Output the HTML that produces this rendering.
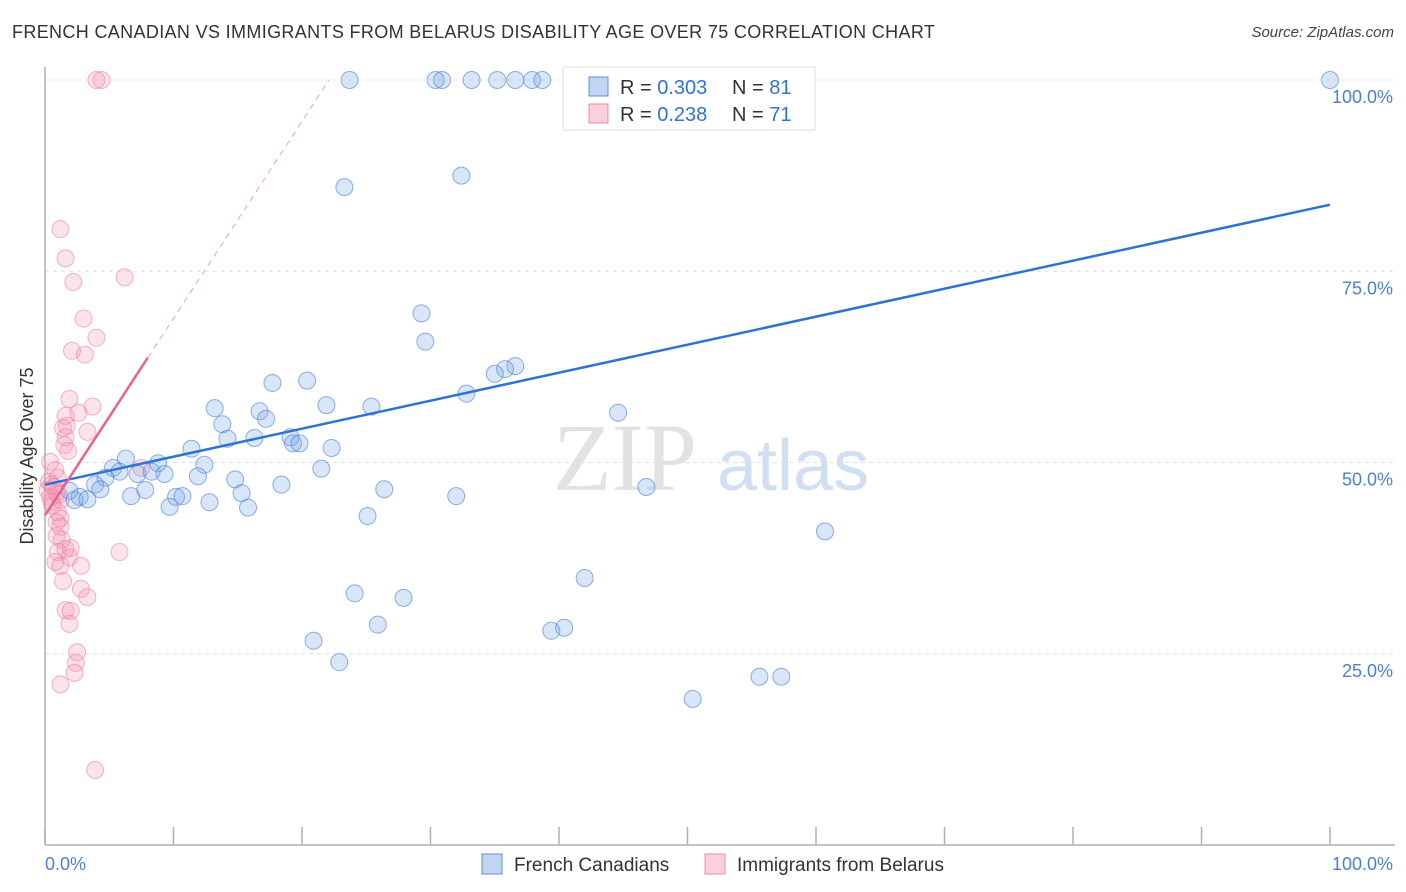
<!DOCTYPE html>
<html><head><meta charset="utf-8">
<style>
body{margin:0;background:#fff;font-family:"Liberation Sans",sans-serif;}
#wrap{position:relative;width:1406px;height:892px;overflow:hidden;}
.title{position:absolute;left:12px;top:22px;font-size:18px;color:#333;letter-spacing:0.35px;}
.source{position:absolute;right:12px;top:24px;font-size:15px;color:#444;font-style:italic;}
</style></head><body>
<div id="wrap">
<div class="title">FRENCH CANADIAN VS IMMIGRANTS FROM BELARUS DISABILITY AGE OVER 75 CORRELATION CHART</div>
<div class="source">Source: ZipAtlas.com</div>
<svg id="svg" width="1406" height="892" style="position:absolute;left:0;top:0"></svg>
</div>
<script>
const blueX=[23.7,30.4,30.9,33.2,35.2,36.6,37.9,38.7,55.0,58.1,100,23.3,32.4,29.3,29.6,36.6,35.8,35.0,32.8,44.6,17.7,20.4,13.2,21.9,25.4,16.7,17.2,13.8,14.2,16.3,19.1,19.3,19.8,22.3,11.4,6.3,8.8,12.4,5.3,5.8,7.2,8.3,9.3,4.7,11.9,21.5,14.8,3.9,1.9,4.3,18.4,7.8,26.4,46.8,2.7,2.3,3.3,6.7,10.2,10.7,15.3,32.0,12.8,9.7,15.8,25.1,60.7,42.0,24.1,27.9,25.9,39.4,40.4,20.9,22.9,55.6,57.3,50.4];
const blueY=[100,100,100,100,100,100,100,100,100,100,100,86.0,87.5,69.5,65.8,62.6,62.2,61.6,59.0,56.5,60.4,60.7,57.1,57.5,57.3,56.7,55.7,55.0,53.1,53.2,53.3,52.5,52.5,51.9,51.8,50.5,49.9,49.7,49.3,48.8,48.5,48.8,48.5,48.0,48.2,49.2,47.8,47.1,46.3,46.5,47.1,46.4,46.5,46.8,45.5,45.1,45.2,45.6,45.5,45.6,46.0,45.6,44.8,44.2,44.1,43.0,41.0,34.9,32.9,32.3,28.8,28.0,28.4,26.7,23.9,22.0,22.0,19.1];
const pinkX=[4.0,4.4,1.2,1.6,2.2,6.2,3.0,4.0,2.1,3.1,1.9,3.7,2.6,1.6,1.7,1.4,3.3,1.6,1.5,1.8,7.5,0.4,0.8,1.0,0.5,0.2,0.9,0.4,1.2,0.6,1.0,1.2,0.9,1.2,0.9,1.3,5.8,1.6,2.0,1.0,1.9,0.8,1.2,2.8,1.4,2.8,3.3,1.6,2.0,1.9,2.5,2.4,2.3,1.2,3.9,0.3,0.7,1.1,0.5];
const pinkY=[100,100,80.5,76.7,73.6,74.2,68.8,66.3,64.6,64.1,58.3,57.3,56.5,56.1,54.8,54.5,54.0,53.3,52.3,51.5,49.3,50.1,49.0,48.0,47.1,46.4,46.0,45.5,45.1,44.4,43.5,42.7,42.2,41.6,40.4,39.9,38.3,38.7,38.8,38.3,37.6,37.0,36.5,36.5,34.5,33.5,32.4,30.7,30.6,28.9,25.2,23.8,22.5,21.0,9.8,47.5,46.8,45.8,44.9];
const blueTrend=[47.1,83.7];
const pinkTrend=[43.1,2.575];
const yTicks=[100,75,50,25];
const yTickLabels=["100.0%","75.0%","50.0%","25.0%"];
const xTicks=[0,10,20,30,40,50,60,70,80,90,100];

const X0=45,X1=1330,Y0=845,Y100=80;
const sx=v=>X0+(X1-X0)*v/100;
const sy=v=>Y0-(Y0-Y100)*v/100;
const svg=document.getElementById('svg');
const NS='http://www.w3.org/2000/svg';
function mk(t,a){const e=document.createElementNS(NS,t);for(const k in a)e.setAttribute(k,a[k]);svg.appendChild(e);return e;}

let w=mk('text',{x:553,y:490,'font-size':96,'font-family':'Liberation Serif,serif',fill:'#e2e2e2'});w.textContent='ZIP';


w=mk('text',{x:717,y:490,'font-size':72,'font-family':'Liberation Sans,sans-serif',fill:'#d0dff2'});w.textContent='atlas';



yTicks.forEach((t,i)=>{
 const g=mk('line',{x1:X0,x2:1395,y1:sy(t),y2:sy(t),stroke:'#e0e0e0','stroke-dasharray':'4,4'});
 
 
 const l=mk('text',{x:1393,y:sy(t)+23,'text-anchor':'end','font-size':18,fill:'#4a7fd4'});
 l.textContent=yTickLabels[i];
 
 
});
let a=mk('line',{x1:X0,x2:X0,y1:67,y2:Y0,stroke:'#b0b0b0','stroke-width':1.5});


a=mk('line',{x1:X0,x2:1395,y1:Y0,y2:Y0,stroke:'#b0b0b0','stroke-width':1.5});


xTicks.forEach(t=>{const e=mk('line',{x1:sx(t),x2:sx(t),y1:827,y2:Y0,stroke:'#b0b0b0','stroke-width':1.5});
 
 });
let t=mk('text',{x:45,y:870,'font-size':18,fill:'#4a7fd4'});t.textContent='0.0%';


t=mk('text',{x:1393,y:870,'text-anchor':'end','font-size':18,fill:'#4a7fd4'});t.textContent='100.0%';


t=mk('text',{x:0,y:0,'font-size':18,fill:'#333','text-anchor':'middle',transform:'translate(33,456) rotate(-90)'});t.textContent='Disability Age Over 75';



pinkX.forEach((x,i)=>{const c=mk('circle',{cx:sx(x),cy:sy(pinkY[i]),r:8.5,fill:'rgba(244,150,178,0.28)',stroke:'rgba(236,130,165,0.6)','stroke-width':1});
 
 });
blueX.forEach((x,i)=>{const c=mk('circle',{cx:sx(x),cy:sy(blueY[i]),r:8.5,fill:'rgba(120,165,230,0.28)',stroke:'rgba(80,135,215,0.65)','stroke-width':1});
 
 });

let l=mk('line',{x1:sx(0),y1:sy(blueTrend[0]),x2:sx(100),y2:sy(blueTrend[1]),stroke:'#2f72d6','stroke-width':2.5});


l=mk('line',{x1:sx(0),y1:sy(pinkTrend[0]),x2:sx(8),y2:sy(pinkTrend[0]+8*pinkTrend[1]),stroke:'#e8648c','stroke-width':2.5});


const xe=(100-pinkTrend[0])/pinkTrend[1];
l=mk('line',{x1:sx(8),y1:sy(pinkTrend[0]+8*pinkTrend[1]),x2:sx(xe),y2:sy(100),stroke:'#f0a0b8','stroke-width':1,'stroke-dasharray':'6,5'});



let r=mk('rect',{x:563,y:67,width:252,height:63,fill:'#fff',stroke:'#ddd'});


[[0,'0.303','81','rgba(120,165,230,0.45)','#5b8fdc'],[1,'0.238','71','rgba(244,150,178,0.45)','#ec8aa8']].forEach(d=>{
 const y=86+d[0]*27;
 const s=mk('rect',{x:589,y:y-9,width:19,height:19,fill:d[3],stroke:d[4]});
 
 
 const tx=mk('text',{x:620,y:y+8,'font-size':20,fill:'#333'});
 tx.innerHTML='R = <tspan fill="#2f72d6">'+d[1]+'</tspan><tspan x="732">N = </tspan><tspan fill="#2f72d6">'+d[2]+'</tspan>';
 
 
});
[[482,'French Canadians','rgba(120,165,230,0.45)','#5b8fdc'],[705,'Immigrants from Belarus','rgba(244,150,178,0.45)','#ec8aa8']].forEach(d=>{
 const s=mk('rect',{x:d[0],y:854,width:20,height:20,fill:d[2],stroke:d[3]});
 
 
 const tx=mk('text',{x:d[0]+32,y:871,'font-size':19,fill:'#333'});tx.textContent=d[1];
 
 
});
</script>
</body></html>
